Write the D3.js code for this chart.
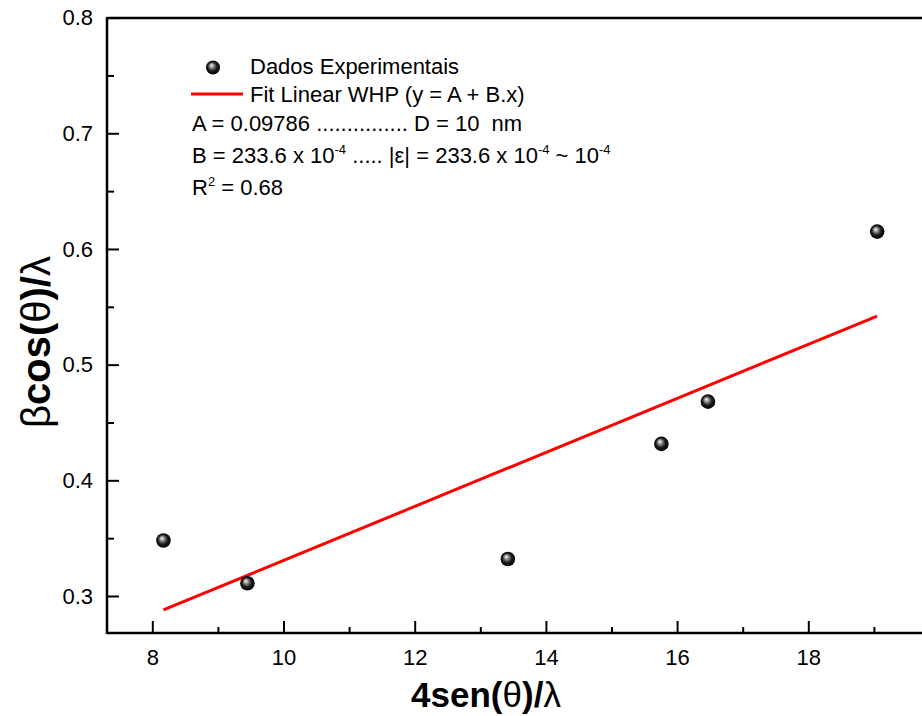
<!DOCTYPE html>
<html>
<head>
<meta charset="utf-8">
<script src="https://cdn.jsdelivr.net/npm/d3@7"></script>
<style>
 body { margin:0; background:#fff; }
 text { font-family: "Liberation Sans", Arial, sans-serif; fill:#000; }
</style>
</head>
<body>
<div id="chart"></div>
<script>
const xValues = [8.17, 9.45, 13.42, 15.76, 16.47, 19.05];
const yValues = [0.348, 0.311, 0.332, 0.4315, 0.468, 0.615];

// fitted line end points (y = A + B.x)
const fitX = [8.17, 19.05];
const fitY = [0.288, 0.542];

const xTicks = [8, 10, 12, 14, 16, 18];
const xMinorTicks = [9, 11, 13, 15, 17, 19];
const yTicks = [0.3, 0.4, 0.5, 0.6, 0.7, 0.8];
const yMinorTicks = [0.35, 0.45, 0.55, 0.65, 0.75];

const width = 922, height = 716;

const svg = d3.select('#chart').append('svg')
    .attr('width', width)
    .attr('height', height);

// x scale: 8 -> 152.3, 18 -> 808.3
const xScale = d3.scaleLinear()
    .domain([8, 18])
    .range([152.3, 808.3]);

const yScale = d3.scaleLinear()
    .domain([0.3, 0.8])
    .range([596, 17.6]);

const plotLeft = 107, plotTop = 18, plotBottom = 633;

// gradient for the shiny balls
const defs = svg.append('defs');
const grad = defs.append('radialGradient')
    .attr('id', 'ball')
    .attr('cx', '0.5').attr('cy', '0.5').attr('r', '0.55')
    .attr('fx', '0.38').attr('fy', '0.33');
grad.append('stop').attr('offset', '0%').attr('stop-color', '#ffffff');
grad.append('stop').attr('offset', '25%').attr('stop-color', '#9a9a9a');
grad.append('stop').attr('offset', '60%').attr('stop-color', '#1a1a1a');
grad.append('stop').attr('offset', '100%').attr('stop-color', '#000000');

// axes
const xAxis = d3.axisBottom(xScale)
    .tickValues(xTicks)
    .tickSize(-12)
    .tickPadding(16)
    .tickFormat(d3.format('d'));

const gx = svg.append('g')
    .attr('transform', `translate(0,${plotBottom})`)
    .call(xAxis);

gx.append('g')
    .call(d3.axisBottom(xScale).tickValues(xMinorTicks).tickSize(-6).tickFormat(''));

const yAxis = d3.axisLeft(yScale)
    .tickValues(yTicks)
    .tickSize(-12)
    .tickPadding(14)
    .tickFormat(d3.format('.1f'));

const gy = svg.append('g')
    .attr('transform', `translate(${plotLeft},0)`)
    .call(yAxis);

gy.append('g')
    .call(d3.axisLeft(yScale).tickValues(yMinorTicks).tickSize(-7).tickFormat(''));

svg.selectAll('.domain').remove();
svg.selectAll('.tick line').attr('stroke', '#000').attr('stroke-width', 2);
svg.selectAll('.tick text')
    .style('font-size', '22px')
    .style('font-family', '"Liberation Sans", Arial, sans-serif');

// frame lines
svg.append('line')
    .attr('x1', plotLeft).attr('x2', width)
    .attr('y1', plotBottom).attr('y2', plotBottom)
    .attr('stroke', '#000').attr('stroke-width', 2.5);
svg.append('line')
    .attr('x1', plotLeft).attr('x2', width)
    .attr('y1', plotTop).attr('y2', plotTop)
    .attr('stroke', '#000').attr('stroke-width', 2.5);
svg.append('line')
    .attr('x1', plotLeft).attr('x2', plotLeft)
    .attr('y1', plotTop - 1).attr('y2', plotBottom + 1)
    .attr('stroke', '#000').attr('stroke-width', 2.5);

// fit line
const fitData = fitX.map((x, i) => ({x: x, y: fitY[i]}));
const line = d3.line()
    .x(d => xScale(d.x))
    .y(d => yScale(d.y));

svg.append('path')
    .datum(fitData)
    .attr('fill', 'none')
    .attr('stroke', '#ff0000')
    .attr('stroke-width', 3)
    .attr('d', line);

// points
const points = xValues.map((x, i) => ({x: x, y: yValues[i]}));
svg.append('g')
    .selectAll('circle')
    .data(points)
    .join('circle')
    .attr('cx', d => xScale(d.x))
    .attr('cy', d => yScale(d.y))
    .attr('r', 7.3)
    .attr('fill', 'url(#ball)');

// legend
const legend = svg.append('g')
    .style('font-size', '22px')
    .attr('xml:space', 'preserve');

legend.append('circle')
    .attr('cx', 213).attr('cy', 67.5).attr('r', 7)
    .attr('fill', 'url(#ball)');
legend.append('text')
    .attr('x', 250).attr('y', 74)
    .text('Dados Experimentais');

legend.append('line')
    .attr('x1', 191).attr('x2', 243)
    .attr('y1', 94).attr('y2', 94)
    .attr('stroke', '#ff0000').attr('stroke-width', 3);
legend.append('text')
    .attr('x', 250).attr('y', 102)
    .text('Fit Linear WHP (y = A + B.x)');

legend.append('text')
    .attr('x', 192).attr('y', 131)
    .text('A = 0.09786 ............... D = 10\u00a0 nm');

const bLine = legend.append('text')
    .attr('x', 192).attr('y', 163);
bLine.append('tspan').text('B = 233.6 x 10');
bLine.append('tspan').attr('dy', -9).style('font-size', '13px').text('-4');
bLine.append('tspan').attr('dy', 9).text(' ..... |\u03b5| = 233.6 x 10');
bLine.append('tspan').attr('dy', -9).style('font-size', '13px').text('-4');
bLine.append('tspan').attr('dy', 9).text(' ~ 10');
bLine.append('tspan').attr('dy', -9).style('font-size', '13px').text('-4');

const rLine = legend.append('text')
    .attr('x', 192).attr('y', 195);
rLine.append('tspan').text('R');
rLine.append('tspan').attr('dy', -9).style('font-size', '13px').text('2');
rLine.append('tspan').attr('dy', 9).text(' = 0.68');

// axis titles
const xTitle = svg.append('text')
    .attr('x', 486).attr('y', 707)
    .attr('text-anchor', 'middle')
    .style('font-size', '35px')
    .style('font-weight', 'bold');
xTitle.append('tspan').text('4sen(');
xTitle.append('tspan').style('font-weight', 'normal').text('\u03b8');
xTitle.append('tspan').text(')/');
xTitle.append('tspan').style('font-weight', 'normal').text('\u03bb');

const yTitle = svg.append('text')
    .attr('transform', 'translate(50,342) rotate(-90)')
    .attr('text-anchor', 'middle')
    .style('font-size', '40px')
    .style('font-weight', 'bold');
yTitle.append('tspan').style('font-weight', 'normal').text('\u03b2');
yTitle.append('tspan').text('cos(');
yTitle.append('tspan').style('font-weight', 'normal').text('\u03b8');
yTitle.append('tspan').text(')/');
yTitle.append('tspan').style('font-weight', 'normal').text('\u03bb');
</script>
</body>
</html>
